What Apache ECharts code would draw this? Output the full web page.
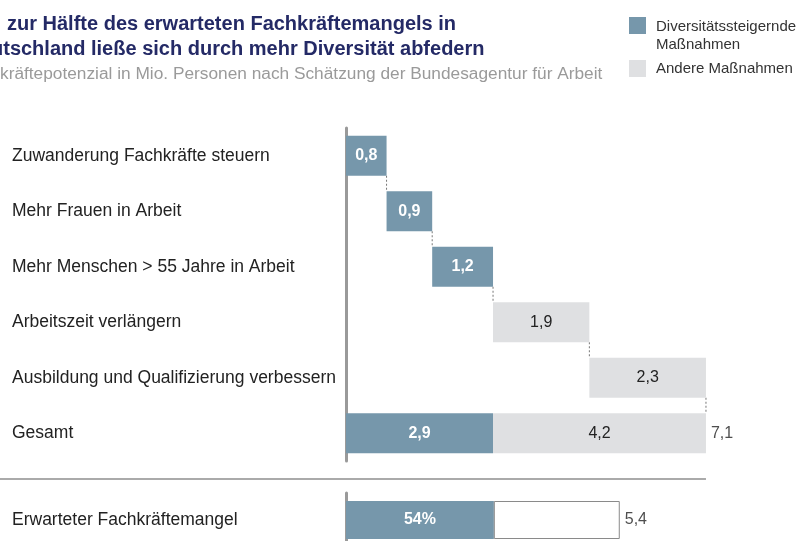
<!DOCTYPE html>
<html>
<head>
    <meta charset="utf-8">
    <title>Fachkräftemangel</title>
    <script src="https://cdn.jsdelivr.net/npm/echarts@6/dist/echarts.min.js"></script>
    <style>
        html, body { margin: 0; padding: 0; background: #fff; }
        #chart { width: 798px; height: 541px; }
    </style>
</head>
<body>
    <div id="chart"></div>
    <script type="text/javascript">
        // Daten
        var categories = [
            'Zuwanderung Fachkräfte steuern',
            'Mehr Frauen in Arbeit',
            'Mehr Menschen > 55 Jahre in Arbeit',
            'Arbeitszeit verlängern',
            'Ausbildung und Qualifizierung verbessern',
            'Gesamt'
        ];
        var diversityValues = [0.8, 0.9, 1.2, null, null, 2.9];
        var otherValues = [null, null, null, 1.9, 2.3, 4.2];
        var totalValue = 7.1;

        var gapCategory = ['Erwarteter Fachkräftemangel'];
        var gapTotal = 5.4;
        var diversityShare = 0.54;

        var BLUE = '#7697ab';
        var GREY = '#dfe0e2';
        var FONT = 'Liberation Sans, Arial, sans-serif';

        function fmt(v) {
            return v.toFixed(1).replace('.', ',');
        }

        // unsichtbare Basis fuer den Wasserfall + Verbindungslinien
        var base = [];
        var connectors = [];
        var cum = 0;
        for (var i = 0; i < categories.length - 1; i++) {
            base.push(cum);
            cum += (diversityValues[i] || 0) + (otherValues[i] || 0);
            connectors.push([cum, i]);
        }
        base.push(0);

        var pxPerUnit = 50.7;
        var xMax = 8;

        var chart = echarts.init(document.getElementById('chart'));

        var yAxisCommon = {
            type: 'category',
            inverse: true,
            axisTick: { show: false },
            axisLine: { show: true, lineStyle: { color: '#9a9a9a', width: 3 } },
            axisLabel: {
                align: 'left', margin: 334, fontSize: 17.5, color: '#222', fontFamily: FONT,
                padding: [3, 0, 0, 0]
            }
        };

        var option = {
            animation: false,
            textStyle: { fontFamily: FONT },
            grid: [
                { left: 346, top: 128, height: 333, width: xMax * pxPerUnit, outerBoundsMode: 'none' },
                { left: 346, top: 493, height: 54, width: xMax * pxPerUnit, outerBoundsMode: 'none' }
            ],
            xAxis: [
                { type: 'value', gridIndex: 0, min: 0, max: xMax, show: false },
                { type: 'value', gridIndex: 1, min: 0, max: xMax, show: false }
            ],
            yAxis: [
                Object.assign({ gridIndex: 0, data: categories }, yAxisCommon),
                Object.assign({ gridIndex: 1, data: gapCategory }, yAxisCommon)
            ],
            series: [
                {
                    name: 'Basis', type: 'bar', stack: 'w', barWidth: 40, silent: true,
                    itemStyle: { color: 'transparent' },
                    data: base
                },
                {
                    name: 'Diversitätssteigernde Maßnahmen', type: 'bar', stack: 'w', barWidth: 40,
                    itemStyle: { color: BLUE },
                    label: {
                        show: true, position: 'inside', color: '#fff', fontWeight: 'bold', fontSize: 16,
                        formatter: function (p) { return fmt(p.value); }
                    },
                    data: diversityValues
                },
                {
                    name: 'Andere Maßnahmen', type: 'bar', stack: 'w', barWidth: 40,
                    itemStyle: { color: GREY },
                    label: {
                        show: true, position: 'inside', color: '#222', fontSize: 16,
                        formatter: function (p) { return fmt(p.value); }
                    },
                    data: otherValues
                },
                {
                    name: 'Verbindung', type: 'custom', silent: true,
                    renderItem: function (params, api) {
                        var pt = api.coord([api.value(0), api.value(1)]);
                        var band = api.size([0, 1])[1];
                        return {
                            type: 'line',
                            shape: { x1: pt[0], y1: pt[1] + 20, x2: pt[0], y2: pt[1] + band - 20 },
                            style: { stroke: '#777', lineWidth: 1, lineDash: [2, 2] }
                        };
                    },
                    data: connectors
                },
                {
                    name: 'Summe', type: 'scatter', symbolSize: 0, silent: true,
                    label: {
                        show: true, position: 'right', distance: 5, color: '#222', fontSize: 16,
                        formatter: function () { return fmt(totalValue); }
                    },
                    data: [[totalValue, categories.length - 1]]
                },
                {
                    name: 'Anteil', type: 'bar', stack: 'g', barWidth: 38,
                    xAxisIndex: 1, yAxisIndex: 1,
                    itemStyle: { color: BLUE },
                    label: {
                        show: true, position: 'inside', color: '#fff', fontWeight: 'bold', fontSize: 16,
                        formatter: Math.round(diversityShare * 100) + '%'
                    },
                    data: [gapTotal * diversityShare]
                },
                {
                    name: 'Rest', type: 'bar', stack: 'g', barWidth: 38,
                    xAxisIndex: 1, yAxisIndex: 1,
                    itemStyle: { color: '#fff', borderColor: '#8a8a8a', borderWidth: 1 },
                    data: [gapTotal * (1 - diversityShare)]
                },
                {
                    name: 'Mangel', type: 'scatter', symbolSize: 0, silent: true,
                    xAxisIndex: 1, yAxisIndex: 1,
                    label: {
                        show: true, position: 'right', distance: 5, color: '#222', fontSize: 16,
                        formatter: function () { return fmt(gapTotal); }
                    },
                    data: [[gapTotal, 0]]
                }
            ]
        };

        chart.setOption(option);

        // Trennlinie, Titel und Legende
        var sepX = chart.convertToPixel({ gridIndex: 0 }, [totalValue, 0])[0];
        chart.setOption({
            graphic: [
                { type: 'line', shape: { x1: 0, y1: 479, x2: sepX, y2: 479 }, style: { stroke: '#aaa', lineWidth: 2 } },
                { type: 'text', left: 7, top: 14, style: { text: 'zur Hälfte des erwarteten Fachkräftemangels in', fill: '#242a66', font: 'bold 20px ' + FONT } },
                { type: 'text', left: -9, top: 39, style: { text: 'utschland ließe sich durch mehr Diversität abfedern', fill: '#242a66', font: 'bold 20px ' + FONT } },
                { type: 'text', left: 0, top: 66, style: { text: 'kräftepotenzial in Mio. Personen nach Schätzung der Bundesagentur für Arbeit', fill: '#9a9a9a', font: '17.3px ' + FONT } },
                { type: 'rect', shape: { x: 629, y: 17, width: 17, height: 17 }, style: { fill: BLUE } },
                { type: 'text', left: 656, top: 18, style: { text: 'Diversitätssteigernde\nMaßnahmen', fill: '#333', font: '15px ' + FONT, lineHeight: 18 } },
                { type: 'rect', shape: { x: 629, y: 60, width: 17, height: 17 }, style: { fill: GREY } },
                { type: 'text', left: 656, top: 61, style: { text: 'Andere Maßnahmen', fill: '#333', font: '15px ' + FONT } }
            ]
        });
    </script>
</body>
</html>
